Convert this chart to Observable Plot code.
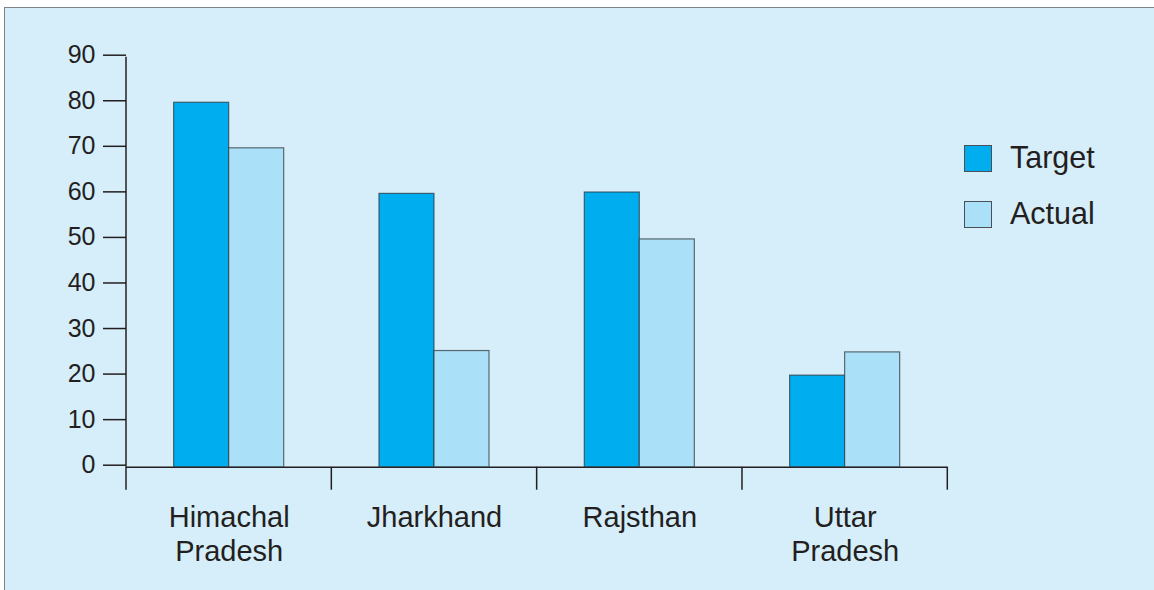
<!DOCTYPE html>
<html><head><meta charset="utf-8">
<script src="https://cdn.jsdelivr.net/npm/d3@7"></script>
<script src="https://cdn.jsdelivr.net/npm/@observablehq/plot@0.6"></script>
<style>
html,body{margin:0;padding:0;background:#fff;}
#wrap{position:relative;width:1154px;height:590px;overflow:hidden;font-family:"Liberation Sans",Arial,sans-serif;}
#panel{position:absolute;left:4px;top:7px;right:0;bottom:0;background:#d6edfa;border-left:1.5px solid #7d858a;border-top:1.5px solid #7d858a;}
#chart{position:absolute;left:0;top:0;}
#legend{position:absolute;left:964px;top:145px;}
.item{position:relative;height:27px;margin-bottom:29px;}
.sw{position:absolute;left:0;top:0;width:26px;height:25px;border:1.2px solid #4a4f55;}
.lab{position:absolute;left:46px;top:-5px;font-size:30.5px;line-height:34px;color:#231f20;white-space:nowrap;}
</style></head>
<body>
<div id="wrap"><div id="panel"></div><div id="chart"></div><div id="legend"></div></div>
<script>
const categories = ["Himachal Pradesh", "Jharkhand", "Rajsthan", "Uttar Pradesh"];
const categoryLabels = ["Himachal\nPradesh", "Jharkhand", "Rajsthan", "Uttar\nPradesh"];
const series = ["Target", "Actual"];
const targetValues = [80, 60, 60.3, 20.1];
const actualValues = [70, 25.5, 50, 25.2];
const yTicks = [0, 10, 20, 30, 40, 50, 60, 70, 80, 90];
const colors = ["#00aeef", "#abe0f9"];

const table = categories.flatMap((c, i) => [
  {category: c, series: "Target", value: targetValues[i]},
  {category: c, series: "Actual", value: actualValues[i]}
]);

const ink = "#231f20";
const plot = Plot.plot({
  width: 1154, height: 590,
  marginLeft: 126, marginRight: 206.7, marginTop: 56.7, marginBottom: 123.3,
  style: {background: "transparent", fontFamily: "'Liberation Sans', Arial, sans-serif", fontSize: "24px", color: ink, overflow: "visible"},
  fx: {domain: categories, padding: 0, round: false, axis: null, label: null},
  x: {domain: series, paddingInner: 0, paddingOuter: 0.866, align: 0.5, round: false, axis: null},
  y: {domain: [0, 90], axis: null},
  color: {domain: series, range: colors},
  marks: [
    Plot.axisY({ticks: yTicks, tickSize: 23, tickPadding: 8, strokeWidth: 1.5, label: null, fontSize: 25, dy: -2}),
    Plot.ruleY([0], {stroke: ink, strokeWidth: 1.5}),
    Plot.barY(table, {fx: "category", x: "series", y: "value", fill: "series", stroke: "#2b3036", strokeWidth: 1.2, strokeOpacity: 0.7}),
    Plot.text(categories, {fx: d => d, text: (d, i) => categoryLabels[i], frameAnchor: "bottom", lineAnchor: "top", dy: 36, fontSize: 29, lineHeight: 1.17, fill: ink})
  ]
});
document.getElementById("chart").appendChild(plot);

// axis line and category boundary ticks, placed through Plot's own scales
const fx = plot.scale("fx"), y = plot.scale("y");
const svg = d3.select(plot);
const g = svg.append("g").attr("stroke", ink).attr("stroke-width", 1.5);
const x0 = fx.apply(categories[0]);
g.append("line").attr("x1", x0).attr("x2", x0).attr("y1", y.apply(0)).attr("y2", y.apply(yTicks[yTicks.length - 1]));
const bounds = categories.map(c => fx.apply(c)).concat([fx.apply(categories[categories.length - 1]) + fx.bandwidth]);
bounds.forEach(b => g.append("line").attr("x1", b).attr("x2", b).attr("y1", y.apply(0)).attr("y2", y.apply(0) + 23));

// legend
const legend = d3.select("#legend");
series.forEach((s, i) => {
  const it = legend.append("div").attr("class", "item");
  it.append("div").attr("class", "sw").style("background", colors[i]);
  it.append("div").attr("class", "lab").text(s);
});
</script>
</body></html>
